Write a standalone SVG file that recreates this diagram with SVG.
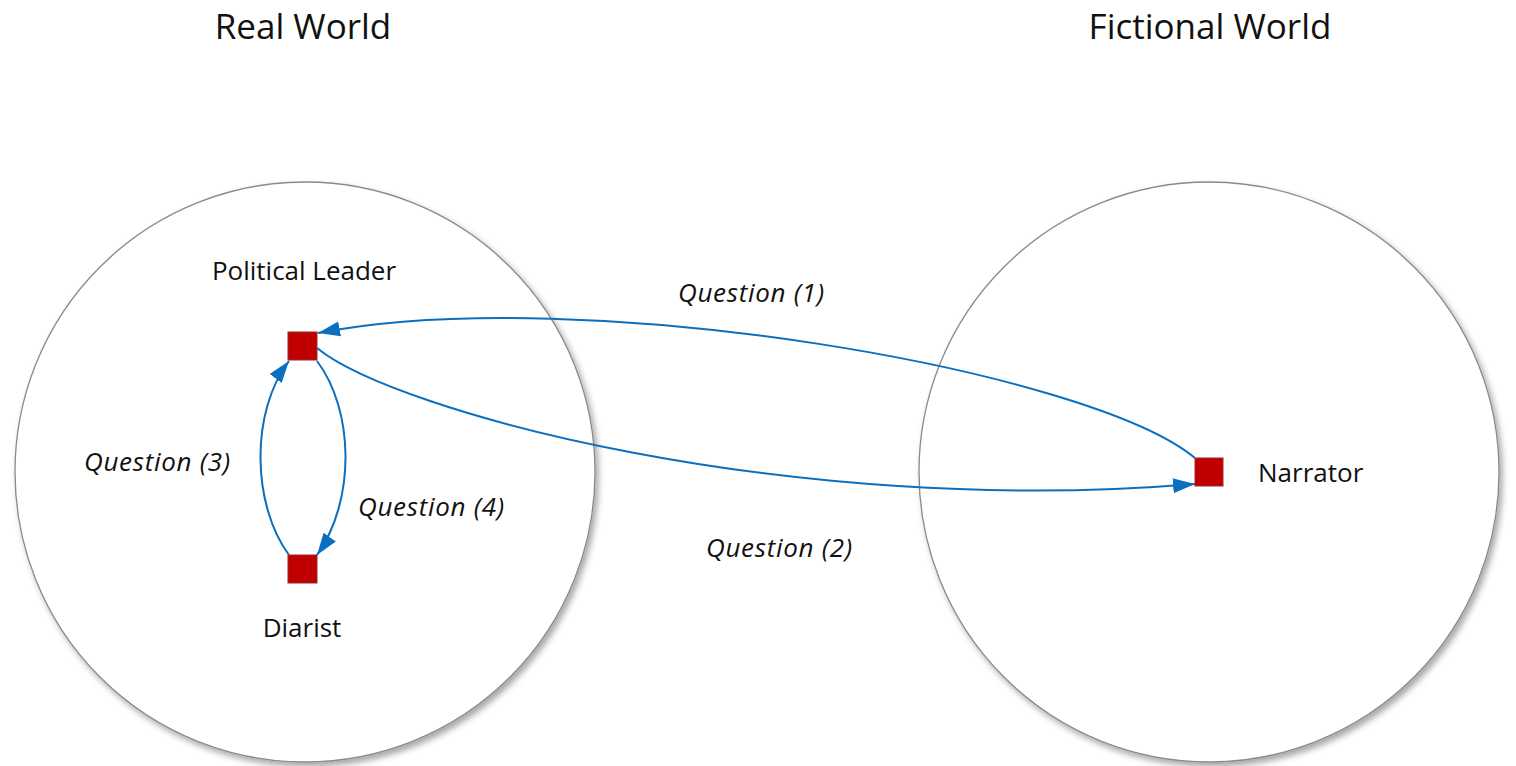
<svg xmlns="http://www.w3.org/2000/svg" width="1516" height="766" viewBox="0 0 1516 766">
<defs>
<style>
.world{fill:#fff;stroke:#8a8a8a;stroke-width:1.3;filter:url(#sh)}
.node{fill:#c00000;stroke:#9a2a2a;stroke-width:1}
.title{font-family:"Open Sans","Liberation Sans",sans-serif;font-size:35px;fill:#111;text-anchor:middle}
.lbl{font-family:"Open Sans","Liberation Sans",sans-serif;font-size:26px;fill:#111}
.q{font-family:"Open Sans","Liberation Sans",sans-serif;font-size:26px;font-style:italic;letter-spacing:0.7px;fill:#111}
.edge{fill:none;stroke:#0b6fc0;stroke-width:2;marker-end:url(#arr)}
</style>
<filter id="sh" x="-10%" y="-10%" width="125%" height="125%">
<feDropShadow dx="3" dy="4" stdDeviation="3" flood-color="#000" flood-opacity="0.35"/>
</filter>
<marker id="arr" markerUnits="userSpaceOnUse" markerWidth="24" markerHeight="18" refX="22" refY="9" orient="auto">
<path d="M0,1.5 L22,9 L0,16.5 Z" fill="#0b6fc0"/>
</marker>
</defs>
<g id="real-world">
<circle class="world" cx="305" cy="472" r="290"/>
<text class="title" x="303" y="39">Real World</text>
</g>
<g id="fictional-world">
<circle class="world" cx="1209" cy="472" r="290"/>
<text class="title" x="1210" y="39">Fictional World</text>
</g>
<g id="connectors">
<path class="edge" d="M1195,458 C1090,370 580,282 318,333"/>
<path class="edge" d="M317,348 C395,412 790,518 1195,484"/>
<path class="edge" d="M289,555 C252,505 250,412 289,361"/>
<path class="edge" d="M317,361 C354,410 356,500 317,555"/>
<text class="q" x="678" y="302">Question (1)</text>
<text class="q" x="706" y="557">Question (2)</text>
<text class="q" x="84" y="471">Question (3)</text>
<text class="q" x="358" y="516">Question (4)</text>
</g>
<g id="political-leader">
<rect class="node" x="288" y="332" width="29" height="28"/>
<text class="lbl" x="304" y="280" text-anchor="middle">Political Leader</text>
</g>
<g id="diarist">
<rect class="node" x="288" y="555" width="29" height="28"/>
<text class="lbl" x="302" y="637" text-anchor="middle">Diarist</text>
</g>
<g id="narrator">
<rect class="node" x="1195" y="458" width="28" height="28"/>
<text class="lbl" x="1258" y="482">Narrator</text>
</g>
</svg>
